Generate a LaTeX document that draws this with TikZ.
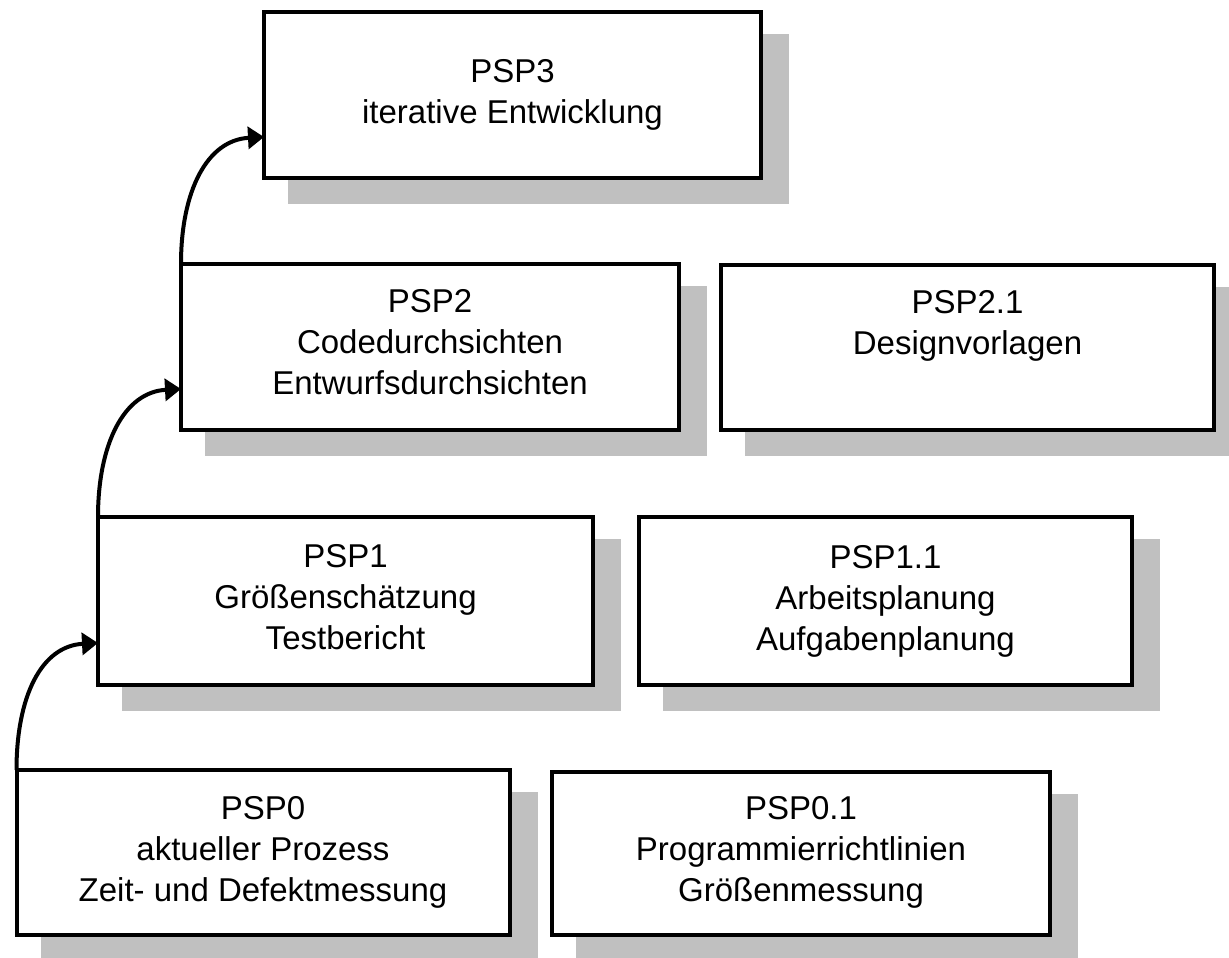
\documentclass[tikz,border=0pt]{standalone}
\usepackage{fontspec}
\setmainfont{Liberation Sans}
\usetikzlibrary{arrows.meta,shadows}
\definecolor{shc}{HTML}{C0C0C0}
\begin{document}
\begin{tikzpicture}[x=1pt,y=-1pt,
  box/.style={rectangle, draw=black, line width=4pt, fill=white, outer sep=0pt, inner sep=0pt,
    general shadow={fill=shc, draw=shc, shadow xshift=26pt, shadow yshift=-24pt}},
  txt/.style={anchor=north, inner sep=0pt, align=center, font=\fontsize{33}{41}\selectfont},
  arr/.style={line width=4pt, -{Triangle[length=16pt,width=22pt]}}]
\useasboundingbox (0,0) rectangle (1229,958);

% boxes
\node[box, minimum width=497pt, minimum height=166pt] (b3)  at (512.5,95)  {};
\node[box, minimum width=498pt, minimum height=166pt] (b2)  at (430,347)   {};
\node[box, minimum width=493pt, minimum height=165pt] (b21) at (967.5,347.5) {};
\node[box, minimum width=495pt, minimum height=168pt] (b1)  at (345.5,601) {};
\node[box, minimum width=493pt, minimum height=168pt] (b11) at (885.5,601) {};
\node[box, minimum width=493pt, minimum height=165pt] (b0)  at (263,852.5) {};
\node[box, minimum width=498pt, minimum height=163pt] (b01) at (801,853.5) {};

% texts
\node[txt] (t3)  at ([yshift=-47pt]b3.north)  {PSP3\\iterative Entwicklung};
\node[txt] (t2)  at ([yshift=-25pt]b2.north)  {PSP2\\Codedurchsichten\\Entwurfsdurchsichten};
\node[txt] (t21) at ([yshift=-25pt]b21.north) {PSP2.1\\Designvorlagen};
\node[txt] (t1)  at ([yshift=-27pt]b1.north)  {PSP1\\Größenschätzung\\Testbericht};
\node[txt] (t11) at ([yshift=-28pt]b11.north) {PSP1.1\\Arbeitsplanung\\Aufgabenplanung};
\node[txt] (t0)  at ([yshift=-26pt]b0.north)  {PSP0\\aktueller Prozess\\Zeit- und Defektmessung};
\node[txt] (t01) at ([yshift=-24pt]b01.north) {PSP0.1\\Programmierrichtlinien\\Größenmessung};

% arrows
\draw[arr] (b0.north west) .. controls +(0,-73) and +(-57,3) .. ([yshift=-42pt]b1.west);
\draw[arr] (b1.north west) .. controls +(0,-73) and +(-57,3) .. ([yshift=-42pt]b2.west);
\draw[arr] (b2.north west) .. controls +(0,-73) and +(-57,3) .. ([yshift=-42pt]b3.west);
\end{tikzpicture}
\end{document}
